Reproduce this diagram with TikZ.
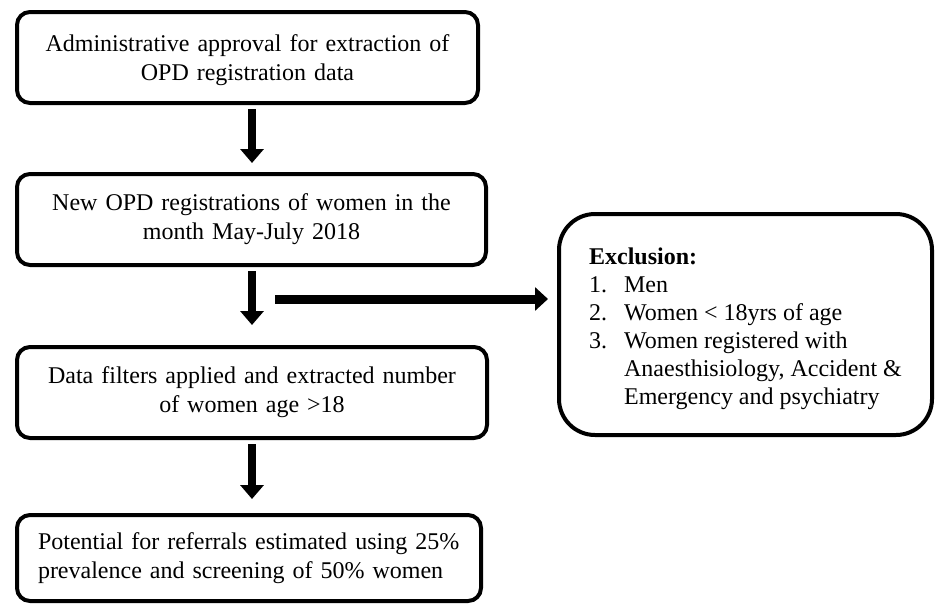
\documentclass[tikz,border=0pt]{standalone}
\usepackage{fontspec}
\setmainfont{Liberation Serif}
\usetikzlibrary{arrows.meta}
\begin{document}
\begin{tikzpicture}[x=1pt,y=-1pt,
  flowbox/.style={draw=black, line width=4pt, rounded corners=13pt, inner sep=0pt,
    font=\fontsize{24}{29}\selectfont, align=center},
  exclbox/.style={draw=black, line width=4pt, rounded corners=36pt, inner sep=0pt,
    font=\fontsize{24}{28}\selectfont},
  bigarrow/.style={line width=8pt, -{Triangle[width=23pt,length=14pt]}},
  sidearrow/.style={line width=9pt, -{Triangle[width=23pt,length=13pt]}}
]
\useasboundingbox (0,0) rectangle (936,605);
\node[flowbox, minimum width=461pt, minimum height=91pt, text width=440pt] (b1) at (247.5,57.5)
  {\rule{0pt}{22pt}Administrative approval for extraction of\\OPD registration data};
\node[flowbox, minimum width=469pt, minimum height=91pt, text width=440pt] (b2) at (251.5,219.5)
  {New OPD registrations of women in the\\month May-July 2018};
\node[flowbox, minimum width=470pt, minimum height=91pt, text width=440pt] (b3) at (252,392.5)
  {Data filters applied and extracted number\\of women age >18};
\node[flowbox, minimum width=464pt, minimum height=86pt, text width=422pt, align=left] (b4) at (249,558)
  {Potential for referrals estimated using 25\%\\prevalence and screening of 50\% women};
\node[exclbox, minimum width=373pt, minimum height=221pt, align=left] (ex) at (745.5,324.5)
  {\rule{0pt}{25pt}\textbf{Exclusion:}\\
   \makebox[35pt][l]{1.}Men\\
   \makebox[35pt][l]{2.}Women < 18yrs of age\\
   \makebox[35pt][l]{3.}Women registered with\\
   \hspace*{35pt}Anaesthisiology, Accident \&\\
   \hspace*{35pt}Emergency and psychiatry};
\coordinate (ax) at (252,0);
\coordinate (hs) at (275,299);
\draw[bigarrow, shorten <=4pt, shorten >=9pt] (b1.south -| ax) -- (b2.north -| ax);
\draw[bigarrow, shorten <=4pt, shorten >=20pt] (b2.south -| ax) -- (b3.north -| ax);
\draw[bigarrow, shorten <=4pt, shorten >=14pt] (b3.south -| ax) -- (b4.north -| ax);
\draw[sidearrow, shorten >=9pt] (hs) -- (hs -| ex.west);
\end{tikzpicture}
\end{document}
